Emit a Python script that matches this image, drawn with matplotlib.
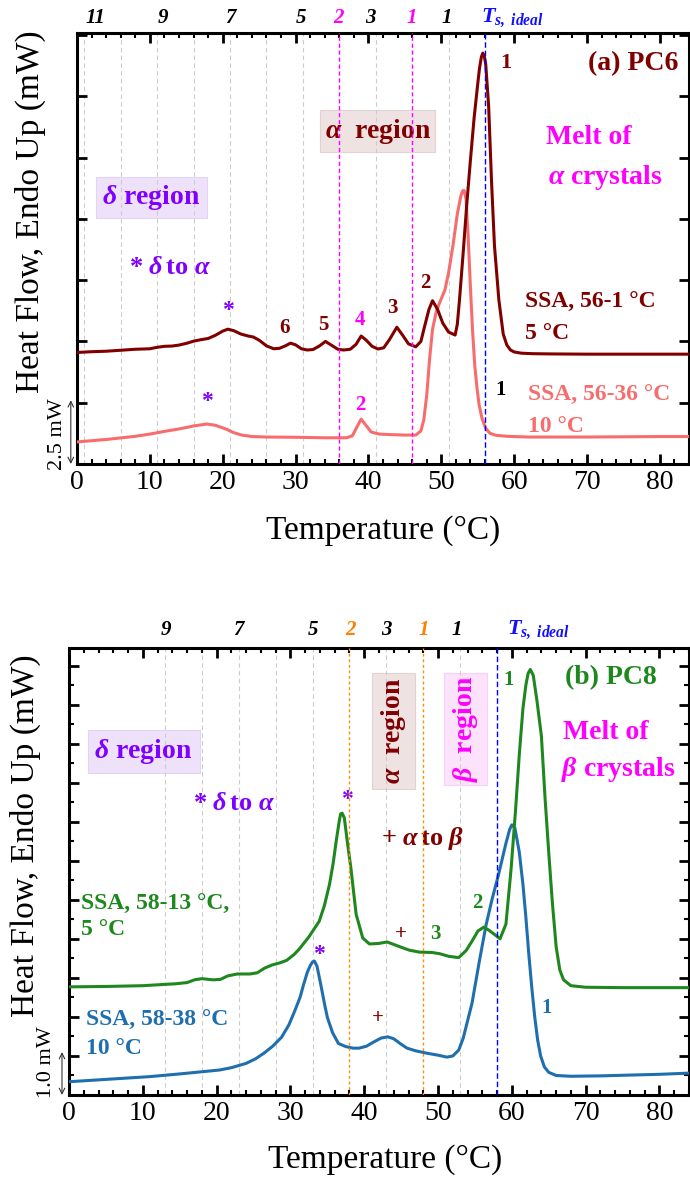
import numpy as np
import matplotlib.pyplot as plt
from matplotlib.patches import Rectangle
import matplotlib.transforms as mtransforms

# ---- panel (a) PC6 ----
t_pc6_5 = [0, 2, 4, 6, 8, 10, 11, 12, 13, 14, 15, 16, 17, 18, 19, 20, 20.7, 21.5, 22.5, 23.5,
           24.2, 25, 26, 27, 27.8, 28.6, 29.3, 30, 30.8, 31.6, 32.4, 33.3, 34.1, 34.9, 35.8, 36.6,
           37.5, 38.3, 39.0, 39.7, 40.5, 41.3, 42.1, 42.9, 43.9, 44.7, 45.5, 46.5, 47.2, 47.7, 48.3,
           48.8, 49.5, 50.2, 51.0, 51.9, 52.2, 52.5, 53.0, 53.5, 54.0, 54.5, 55.0, 55.25, 55.5, 55.7,
           55.9, 56.1, 56.5, 56.9, 57.3, 57.9, 58.5, 59.0, 59.5, 60.0, 61.0, 62.5, 65, 70, 75, 80, 84]
hf_pc6_5 = [4.55, 4.58, 4.60, 4.64, 4.68, 4.70, 4.76, 4.80, 4.81, 4.85, 4.92, 5.01, 5.07, 5.12, 5.25,
            5.42, 5.50, 5.44, 5.30, 5.22, 5.18, 5.05, 4.82, 4.70, 4.72, 4.82, 4.93, 4.86, 4.70, 4.65,
            4.67, 4.82, 5.00, 4.85, 4.68, 4.65, 4.68, 4.88, 5.22, 5.05, 4.80, 4.69, 4.74, 5.08, 5.58,
            5.25, 4.90, 4.78, 5.00, 5.60, 6.30, 6.66, 6.30, 5.75, 5.38, 5.26, 5.70, 6.70, 8.60, 10.6,
            12.4, 14.1, 15.5, 16.15, 16.6, 16.76, 16.65, 16.3, 14.6, 11.5, 8.9, 6.7, 5.3, 4.85, 4.65,
            4.57, 4.52, 4.50, 4.49, 4.48, 4.48, 4.48, 4.48]

t_pc6_10 = [0, 4, 8, 10, 12, 14, 16, 17.8, 19, 20.5, 21.5, 22.6, 24, 26, 30, 34, 37, 37.8, 38.4,
            39.0, 39.6, 40.4, 41.5, 43, 45, 46.5, 47.2, 47.6, 48.0, 48.4, 48.8, 49.3, 49.8, 50.5,
            51.0, 51.6, 52.2, 52.7, 52.95, 53.15, 53.4, 53.7, 54.0, 54.3, 54.6, 54.9, 55.2, 55.6,
            56.1, 56.7, 57.5, 59, 62, 70, 80, 84]
hf_pc6_10 = [0.90, 1.00, 1.13, 1.22, 1.33, 1.43, 1.55, 1.63, 1.58, 1.42, 1.28, 1.18, 1.12, 1.10,
             1.09, 1.07, 1.07, 1.15, 1.50, 1.83, 1.60, 1.30, 1.22, 1.20, 1.18, 1.18, 1.35, 1.80, 2.80,
             4.30, 5.50, 6.20, 6.60, 7.10, 7.80, 8.90, 10.2, 10.95, 11.15, 11.15, 10.8, 9.2, 7.2,
             5.4, 4.0, 3.1, 2.4, 1.85, 1.45, 1.25, 1.17, 1.13, 1.10, 1.10, 1.12, 1.12]

# ---- panel (b) PC8 ----
t_pc8_5 = [0, 5, 10, 14.5, 16, 17, 18, 19.5, 20.5, 21.5, 22.8, 24.5, 25.5, 26.5, 27.5, 28.5, 29.5,
           30.5, 31.2, 32.5, 33.9, 34.6, 35.3, 35.8, 36.2, 36.6, 36.8, 37.0, 37.3, 37.7, 38.2, 38.9,
           39.8, 40.7, 41.9, 43.1, 44.5, 46.1, 47.5, 49.2, 50.2, 51.5, 52.8, 53.8, 54.6, 55.4, 56.2,
           56.9, 57.6, 58.4, 59.2, 59.9, 60.5, 61.0, 61.5, 61.9, 62.2, 62.5, 62.9, 63.4, 64.0, 64.5,
           65.0, 65.5, 66.0, 66.5, 67.0, 68.0, 70, 75, 80, 84]
hf_pc8_5 = [2.77, 2.78, 2.80, 2.85, 2.88, 2.95, 2.98, 2.95, 2.96, 3.05, 3.10, 3.10, 3.13, 3.25, 3.33,
            3.38, 3.45, 3.60, 3.74, 4.05, 4.45, 4.85, 5.40, 5.95, 6.50, 7.00, 7.20, 7.22, 7.10, 6.50,
            5.80, 4.63, 4.02, 3.87, 3.88, 3.92, 3.82, 3.71, 3.66, 3.65, 3.62, 3.55, 3.52, 3.70, 3.94,
            4.20, 4.30, 4.22, 4.12, 4.00, 4.38, 5.80, 7.30, 8.70, 9.90, 10.5, 10.8, 10.9, 10.75, 10.1,
            9.2, 7.6, 6.2, 4.9, 3.8, 3.2, 2.95, 2.80, 2.76, 2.75, 2.75, 2.75]

t_pc8_10 = [0, 5, 10.9, 15, 20.4, 22, 24, 25.3, 26.4, 27.6, 28.8, 29.8, 30.6, 31.3, 31.8, 32.3, 32.7,
            33.0, 33.25, 33.6, 34.1, 34.6, 35.0, 35.7, 36.5, 37.5, 38.5, 39.3, 40.3, 41.3, 42.3, 43.2,
            44.0, 45.0, 45.8, 47.0, 48.5, 50.0, 51.2, 52.0, 52.8, 53.4, 54.0, 54.6, 55.6, 56.5, 57.3,
            58.2, 59.2, 59.7, 60.0, 60.4, 61.0, 61.5, 61.9, 62.3, 62.7, 63.1, 63.5, 63.9, 64.4, 65.0,
            66, 68, 72, 76, 80, 84]
hf_pc8_10 = [0.34, 0.40, 0.47, 0.54, 0.64, 0.70, 0.81, 0.93, 1.07, 1.25, 1.48, 1.80, 2.16, 2.50, 2.84,
             3.15, 3.32, 3.41, 3.43, 3.30, 2.84, 2.35, 1.99, 1.60, 1.32, 1.24, 1.20, 1.20, 1.25, 1.36,
             1.46, 1.49, 1.44, 1.30, 1.20, 1.13, 1.07, 1.02, 0.97, 1.00, 1.15, 1.45, 1.90, 2.35, 3.43,
             4.35, 5.00, 5.65, 6.45, 6.80, 6.92, 6.85, 6.23, 5.40, 4.55, 3.60, 2.75, 2.00, 1.40, 1.00,
             0.72, 0.58, 0.50, 0.48, 0.49, 0.51, 0.53, 0.56]

# SSA self-nucleation / annealing temperatures (dashed lines)
steps_a = [1, 6, 11, 16, 21, 26, 31, 41, 51]
steps_a_10 = [36, 46]
ts_a = 56
steps_b = [13, 18, 23, 28, 33, 43, 53]
steps_b_10 = [38, 48]
ts_b = 58

# step numbers written above the frame
top_a_pos = [2.5, 11.8, 21.1, 30.8, 35.9, 40.3, 45.9, 50.7]
top_a_txt = ['11', '9', '7', '5', '2', '3', '1', '1']
top_a_col = ['k', 'k', 'k', 'k', 'magenta', 'k', 'magenta', 'k']
top_b_pos = [13.1, 23.0, 33.0, 38.2, 43.0, 48.0, 52.6]
top_b_txt = ['9', '7', '5', '2', '3', '1', '1']
top_b_col = ['k', 'k', 'k', '#ff8000', 'k', '#ff8000', 'k']

DRED = '#800000'
SALMON = '#f76d6d'
PURPLE = '#7f00ff'
MAG = '#ff00ff'
GREEN = '#1e881e'
BLUE = '#1f6fae'

plt.rcParams['font.family'] = ['Liberation Serif', 'DejaVu Serif']
plt.rcParams['mathtext.fontset'] = 'custom'
plt.rcParams['mathtext.rm'] = 'Liberation Serif'
plt.rcParams['mathtext.it'] = 'Liberation Serif:italic'
plt.rcParams['mathtext.bf'] = 'Liberation Serif:bold'
plt.rcParams['mathtext.bfit'] = 'Liberation Serif:bold:italic'

fig = plt.figure(figsize=(6.9, 11.8), dpi=100)
axA = fig.add_axes([77 / 690, 1 - 464 / 1180, 612 / 690, 431 / 1180])
axB = fig.add_axes([69 / 690, 1 - 1095 / 1180, 620 / 690, 447 / 1180])


def style(ax, ytop, ystep, yminor):
    ax.set_xlim(0, 84)
    ax.set_ylim(0, ytop)
    ax.set_xticks(np.arange(0, 81, 10))
    ax.set_xticks(np.arange(0, 85, 2), minor=True)
    ax.set_yticks(np.arange(0, ytop, ystep))
    if yminor:
        ax.set_yticks(np.arange(0, ytop, yminor), minor=True)
    ax.tick_params(which='both', direction='in', top=True, right=True, labelsize=20, pad=4)
    ax.tick_params(which='major', length=7, width=2)
    ax.tick_params(which='minor', length=3.5, width=1.5)
    ax.tick_params(axis='y', labelleft=False)
    for s in ax.spines.values():
        s.set_linewidth(2.2)


def vlines(ax, grey, coloured, col, ts, ls):
    for x in grey:
        ax.axvline(x, color='#cccccc', lw=0.8, ls=(0, (4, 3)), zorder=1)
    for x in coloured:
        ax.axvline(x, color=col, lw=1.0, ls=ls, zorder=4)
    ax.axvline(ts, color='#0000ff', lw=1.0, ls=(0, (4, 2)), zorder=4)


def top_labels(ax, pos, txt, col, yax, ts_x):
    tr = mtransforms.blended_transform_factory(ax.transData, ax.transAxes)
    for p, t, c in zip(pos, txt, col):
        ax.text(p, yax, t, transform=tr, ha='center', va='center', fontsize=15,
                fontweight='bold', fontstyle='italic', color=c)
    ax.text(ts_x, yax, r'$\mathbfit{T}_{\mathbfit{s,\ ideal}}$', transform=tr, ha='left',
            va='center', fontsize=16, color='#1010ff')


# ---------------- (a) ----------------
style(axA, 17.58, 2.5, None)
vlines(axA, steps_a, steps_a_10, MAG, ts_a, (0, (3, 2)))
axA.plot(t_pc6_10, hf_pc6_10, color=SALMON, lw=2.2, zorder=3)
axA.plot(t_pc6_5, hf_pc6_5, color=DRED, lw=2.2, zorder=3)
top_labels(axA, top_a_pos, top_a_txt, top_a_col, 1.035, 55.4)

axA.add_patch(Rectangle((33.4, 12.72), 15.8, 1.72, facecolor='#efe2e2', edgecolor='#e4d2d2',
                        lw=0.8, zorder=0.5))
axA.text(41.3, 13.58, r'$\mathbfit{\alpha}$  region', ha='center', va='center', fontsize=20,
         fontweight='bold', color=DRED)
axA.add_patch(Rectangle((2.6, 10.03), 15.2, 1.67, facecolor='#eee2fb', edgecolor='#e3d3f6',
                        lw=0.8, zorder=0.5))
axA.text(10.2, 10.87, r'$\mathbfit{\delta}$ region', ha='center', va='center', fontsize=20,
         fontweight='bold', color=PURPLE)
axA.text(12.8, 8.03, r'* $\mathbfit{\delta}\,$to $\mathbfit{\alpha}$', ha='center', va='center',
         fontsize=19, fontweight='bold', color=PURPLE)
axA.text(76.3, 16.35, '(a) PC6', ha='center', va='center', fontsize=20, fontweight='bold',
         color=DRED)
axA.text(70.3, 13.3, 'Melt of', ha='center', va='center', fontsize=20, fontweight='bold',
         color=MAG)
axA.text(72.5, 11.7, r'$\mathbfit{\alpha}$ crystals', ha='center', va='center', fontsize=20,
         fontweight='bold', color=MAG)

axA.text(58.8, 16.35, '1', ha='center', va='center', fontsize=16, fontweight='bold', color=DRED)
axA.text(20.7, 6.28, '*', ha='center', va='center', fontsize=17, fontweight='bold', color=PURPLE)
axA.text(17.8, 2.53, '*', ha='center', va='center', fontsize=17, fontweight='bold', color=PURPLE)
for x, y, s, c in [(28.5, 5.55, '6', DRED), (33.8, 5.67, '5', DRED), (38.9, 5.87, '4', MAG),
                   (43.3, 6.36, '3', DRED), (47.8, 7.38, '2', DRED), (38.9, 2.41, '2', MAG),
                   (58.2, 3.02, '1', 'k')]:
    axA.text(x, y, s, ha='center', va='center', fontsize=15, fontweight='bold', color=c)

axA.text(61.5, 6.57, 'SSA, 56-1 °C', ha='left', va='center', fontsize=17, fontweight='bold',
         color=DRED)
axA.text(61.5, 5.34, '5 °C', ha='left', va='center', fontsize=17, fontweight='bold', color=DRED)
axA.text(61.9, 2.81, 'SSA, 56-36 °C', ha='left', va='center', fontsize=17, fontweight='bold',
         color=SALMON)
axA.text(61.9, 1.51, '10 °C', ha='left', va='center', fontsize=17, fontweight='bold',
         color=SALMON)

axA.annotate('', xy=(-0.85, 0), xytext=(-0.85, 2.6), annotation_clip=False,
             arrowprops=dict(arrowstyle='<->', lw=0.8, color='#333333', shrinkA=0, shrinkB=0))
axA.text(-2.7, 1.2, '2.5 mW', rotation=90, ha='center', va='center', fontsize=16, clip_on=False)

# ---------------- (b) ----------------
style(axB, 11.45, 1.0, 0.5)
vlines(axB, steps_b, steps_b_10, '#ff8c00', ts_b, (0, (2, 2)))
axB.plot(t_pc8_10, hf_pc8_10, color=BLUE, lw=2.2, zorder=3)
axB.plot(t_pc8_5, hf_pc8_5, color=GREEN, lw=2.2, zorder=3)
top_labels(axB, top_b_pos, top_b_txt, top_b_col, 1.04, 59.3)

axB.add_patch(Rectangle((41.1, 7.84), 5.8, 2.97, facecolor='#efe2e2', edgecolor='#e4d2d2',
                        lw=0.8, zorder=0.5))
axB.text(44.0, 9.33, r'$\mathbfit{\alpha}$  region', rotation=90, ha='center', va='center',
         fontsize=20, fontweight='bold', color=DRED)
axB.add_patch(Rectangle((50.8, 7.94), 5.8, 2.87, facecolor='#fde2fb', edgecolor='#f9d0f6',
                        lw=0.8, zorder=0.5))
axB.text(53.7, 9.38, r'$\mathbfit{\beta}$  region', rotation=90, ha='center', va='center',
         fontsize=20, fontweight='bold', color=MAG)
axB.add_patch(Rectangle((2.6, 8.24), 15.1, 1.10, facecolor='#eee2fb', edgecolor='#e3d3f6',
                        lw=0.8, zorder=0.5))
axB.text(10.1, 8.79, r'$\mathbfit{\delta}$ region', ha='center', va='center', fontsize=20,
         fontweight='bold', color=PURPLE)
axB.text(22.4, 7.46, r'* $\mathbfit{\delta}\,$to $\mathbfit{\alpha}$', ha='center', va='center',
         fontsize=19, fontweight='bold', color=PURPLE)
axB.text(47.9, 6.56, r'+ $\mathbfit{\alpha}\,$to $\mathbfit{\beta}$', ha='center', va='center',
         fontsize=19, fontweight='bold', color=DRED)
axB.text(73.4, 10.69, '(b) PC8', ha='center', va='center', fontsize=20, fontweight='bold',
         color=GREEN)
axB.text(72.7, 9.29, 'Melt of', ha='center', va='center', fontsize=20, fontweight='bold',
         color=MAG)
axB.text(74.4, 8.35, r'$\mathbfit{\beta}$ crystals', ha='center', va='center', fontsize=20,
         fontweight='bold', color=MAG)

axB.text(37.6, 7.56, '*', ha='center', va='center', fontsize=17, fontweight='bold', color=PURPLE)
axB.text(33.9, 3.61, '*', ha='center', va='center', fontsize=17, fontweight='bold', color=PURPLE)
axB.text(45.0, 4.12, '+', ha='center', va='center', fontsize=15, fontweight='bold', color=DRED)
axB.text(41.9, 1.96, '+', ha='center', va='center', fontsize=15, fontweight='bold', color=DRED)
for x, y, s, c in [(59.5, 10.64, '1', GREEN), (49.7, 4.12, '3', GREEN), (55.3, 4.91, '2', GREEN),
                   (64.7, 2.24, '1', BLUE)]:
    axB.text(x, y, s, ha='center', va='center', fontsize=15, fontweight='bold', color=c)

axB.text(1.6, 4.89, 'SSA, 58-13 °C,', ha='left', va='center', fontsize=17, fontweight='bold',
         color=GREEN)
axB.text(1.6, 4.25, '5 °C', ha='left', va='center', fontsize=17, fontweight='bold', color=GREEN)
axB.text(2.3, 1.91, 'SSA, 58-38 °C', ha='left', va='center', fontsize=17, fontweight='bold',
         color=BLUE)
axB.text(2.3, 1.20, '10 °C', ha='left', va='center', fontsize=17, fontweight='bold', color=BLUE)

axB.annotate('', xy=(-0.95, 0), xytext=(-0.95, 1.1), annotation_clip=False,
             arrowprops=dict(arrowstyle='<->', lw=0.8, color='#333333', shrinkA=0, shrinkB=0))
axB.text(-3.0, 0.85, '1.0 mW', rotation=90, ha='center', va='center', fontsize=16, clip_on=False)

# axis titles
fig.text(30 / 690, 1 - 212 / 1180, 'Heat Flow, Endo Up (mW)', rotation=90, ha='center',
         va='center', fontsize=24)
fig.text(25 / 690, 1 - 836 / 1180, 'Heat Flow, Endo Up (mW)', rotation=90, ha='center',
         va='center', fontsize=24)
fig.text(383 / 690, 1 - 531 / 1180, 'Temperature (°C)', ha='center', va='center', fontsize=24)
fig.text(385 / 690, 1 - 1160 / 1180, 'Temperature (°C)', ha='center', va='center', fontsize=24)

fig.savefig('out.png', dpi=100)
